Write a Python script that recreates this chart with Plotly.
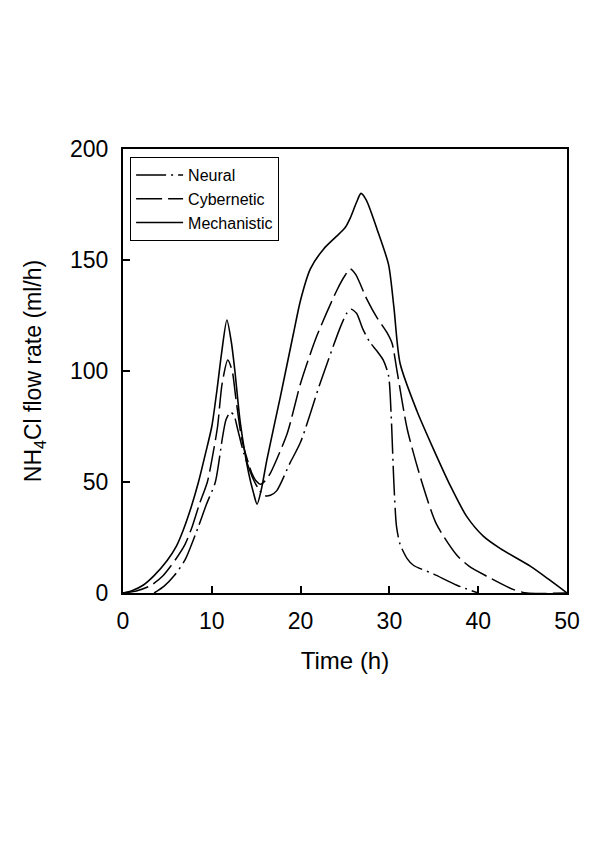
import plotly.graph_objects as go

# NH4Cl feed rate profiles
neural_t = [3.5, 4.6, 5.8, 7.0, 8.5, 9.4, 10.4, 11.2, 11.6, 12.1, 12.5, 12.9, 13.6, 14.7, 15.4, 16.0, 16.6, 17.3,
            18.8, 20.0, 22.2, 24.5, 25.2, 25.7, 26.3, 27.0, 27.8, 28.6, 29.3, 29.9, 30.2, 30.5, 30.8, 31.2, 32.0,
            32.7, 35.0, 37.6, 40.0]
neural_q = [0.0, 3.0, 8.0, 15.0, 30.0, 40.0, 50.0, 70.0, 78.0, 81.5, 80.0, 74.0, 63.0, 51.0, 46.0, 43.8, 44.0, 46.0,
            58.5, 68.0, 94.5, 120.0, 126.0, 127.8, 126.0, 119.0, 113.0, 109.0, 105.0, 98.0, 80.0, 50.0, 30.0, 22.0,
            15.5, 12.5, 8.5, 3.5, 0.0]

cyber_t = [0.0, 1.5, 3.1, 4.5, 5.9, 7.0, 7.8, 8.6, 9.5, 10.1, 10.65, 11.15, 11.8, 12.3, 12.7, 13.4, 14.5,
           15.0, 15.5, 16.0, 16.6, 18.5, 20.0, 21.8, 24.1, 25.0, 25.6, 26.2, 27.5, 28.6, 29.7, 30.3, 30.9,
           32.0, 33.5, 35.3, 37.6, 39.0, 41.0, 44.0, 45.5, 50.0]
cyber_q = [0.0, 0.9, 3.3, 7.8, 15.0, 22.0, 30.0, 40.0, 50.0, 62.0, 75.0, 94.0, 105.0, 100.0, 88.0, 69.0, 54.0,
           50.5, 49.0, 50.5, 54.0, 72.0, 94.5, 115.5, 136.5, 143.0, 146.0, 143.5, 132.0, 124.0, 117.5, 112.5, 99.0,
           74.0, 52.0, 31.0, 17.0, 12.0, 7.5, 1.5, 0.0, 0.0]

mech_t = [0.0, 1.0, 2.3, 3.5, 4.95, 6.0, 6.8, 7.7, 8.5, 9.3, 10.0, 10.6, 11.1, 11.7, 12.2, 12.6, 13.2, 14.15,
          14.7, 15.1, 15.6, 16.2, 17.7, 19.2, 20.0, 21.1, 22.6, 24.0, 25.0, 25.6, 26.3, 26.8, 27.4, 28.6, 29.9,
          30.5, 31.2, 33.1, 35.0, 36.9, 38.7, 40.6, 42.5, 45.9, 48.0, 50.0]
mech_q = [0.0, 1.0, 3.6, 7.8, 14.5, 21.0, 28.5, 39.0, 50.0, 63.0, 75.0, 92.0, 108.0, 123.0, 113.0, 100.0, 77.0, 54.0,
          45.0, 40.0, 47.0, 60.0, 88.0, 117.0, 132.0, 146.0, 155.0, 160.5, 164.5, 169.0, 176.0, 180.0, 177.0, 164.0,
          148.0, 129.0, 103.5, 82.0, 64.5, 48.0, 34.5, 25.5, 20.0, 12.0, 6.0, 0.0]

FONT = "Arial, Liberation Sans, sans-serif"

fig = go.Figure()
fig.add_trace(go.Scatter(x=neural_t, y=neural_q, name='Neural', mode='lines',
                         line=dict(color='black', width=1.5, dash='30px,5px,2px,5px',
                                   shape='spline', smoothing=0.7)))
fig.add_trace(go.Scatter(x=cyber_t, y=cyber_q, name='Cybernetic', mode='lines',
                         line=dict(color='black', width=1.5, dash='26px,6px',
                                   shape='spline', smoothing=0.7)))
fig.add_trace(go.Scatter(x=mech_t, y=mech_q, name='Mechanistic', mode='lines',
                         line=dict(color='black', width=1.6, shape='spline', smoothing=0.7)))

axis_style = dict(showline=True, linecolor='black', linewidth=2, mirror=True, showgrid=False, zeroline=False,
                  ticks='inside', ticklen=7, tickwidth=1.5, tickcolor='black',
                  tickfont=dict(family=FONT, size=23, color='black'))
fig.update_xaxes(range=[0, 50], tickvals=[0, 10, 20, 30, 40, 50], ticklabelstandoff=6,
                 title=dict(text='Time (h)', font=dict(family=FONT, size=24, color='black'), standoff=20),
                 **axis_style)
fig.update_yaxes(range=[0, 200], tickvals=[0, 50, 100, 150, 200], ticklabelstandoff=8,
                 title=dict(text='NH<sub>4</sub>Cl flow rate (ml/h)',
                            font=dict(family=FONT, size=23, color='black'), standoff=22),
                 **axis_style)
# the page body adds an 8px offset, so margins are trimmed to keep the plot box in place
fig.update_layout(width=600, height=852, autosize=False, plot_bgcolor='white', paper_bgcolor='white',
                  margin=dict(l=115, r=41, t=141, b=267),
                  legend=dict(x=0.016, y=0.982, xanchor='left', yanchor='top', bgcolor='white',
                              bordercolor='black', borderwidth=1, itemwidth=47, tracegroupgap=0,
                              font=dict(family=FONT, size=16, color='black')),
                  showlegend=True)

fig.write_html("out.html")
